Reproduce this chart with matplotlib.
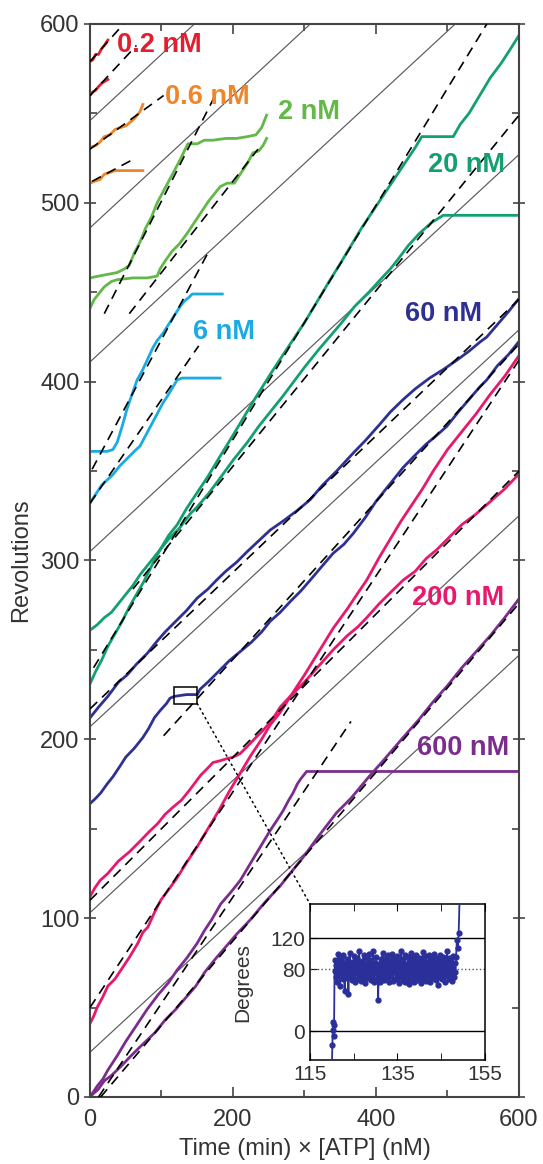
import matplotlib
matplotlib.use("Agg")
import numpy as np
import matplotlib.pyplot as plt
from matplotlib.patches import Rectangle, ConnectionPatch
from matplotlib.ticker import MultipleLocator

plt.rcParams['font.family'] = ['Liberation Sans', 'DejaVu Sans']

# Gray reference lines: value at x=0 and at x=600
gray_y0 = [25, 103, 207, 305, 411, 486, 546]
gray_y600 = [247, 325, 429, 527, 633, 708, 768]

# Traces (x = time*[ATP], y = revolutions)
trace_02a = [(0, 579), (4, 580), (8, 583), (12, 583), (16, 586), (20, 588), (25, 591)]
trace_02b = [(0, 560), (4, 562), (8, 563), (12, 565), (17, 567), (21, 568), (25, 569)]
trace_06a = [(0, 531), (8, 532), (14, 534), (20, 537), (28, 538), (35, 541), (42, 542),
             (50, 543), (56, 545), (62, 547), (66, 549), (70, 551), (74, 555)]
trace_06b = [(0, 511), (6, 512), (14, 513), (20, 516), (28, 517), (35, 518), (42, 518),
             (52, 518), (60, 518), (74, 518)]
trace_2a = [(0, 458), (12, 459), (25, 460), (38, 461), (48, 463), (55, 465), (62, 472),
            (70, 478), (78, 486), (86, 492), (94, 500), (102, 506), (110, 512), (118, 518),
            (126, 524), (132, 529), (137, 533), (150, 533), (160, 535), (172, 535),
            (190, 536), (205, 536), (220, 537), (232, 538), (240, 542), (247, 549)]
trace_2b = [(0, 441), (6, 446), (12, 449), (20, 453), (30, 456), (38, 457), (60, 458),
            (80, 458), (94, 459), (98, 463), (106, 468), (115, 473), (125, 477), (136, 483),
            (146, 489), (156, 495), (166, 501), (176, 506), (182, 509), (192, 511),
            (202, 511), (210, 516), (220, 522), (228, 528), (236, 529), (242, 532), (247, 536)]
trace_6a = [(0, 361), (10, 361), (24, 361), (32, 362), (38, 366), (45, 375), (52, 385),
            (58, 392), (66, 401), (73, 406), (80, 412), (88, 419), (94, 423), (102, 427),
            (110, 432), (118, 437), (126, 442), (132, 445), (138, 447), (143, 449), (185, 449)]
trace_6b = [(0, 332), (8, 337), (16, 342), (24, 345), (32, 348), (42, 353), (52, 357),
            (62, 361), (70, 364), (78, 370), (86, 376), (94, 382), (102, 388), (110, 393),
            (116, 397), (122, 401), (129, 402), (150, 402), (182, 402)]
trace_20a = [(0, 261), (10, 264), (20, 268), (30, 271), (40, 276), (50, 281), (60, 286),
             (70, 292), (80, 297), (90, 302), (98, 306), (110, 314), (122, 320), (135, 329),
             (150, 338), (165, 347), (180, 357), (200, 370), (215, 380), (230, 390),
             (252, 404), (270, 415), (285, 424), (300, 433), (318, 445), (336, 457),
             (350, 466), (365, 476), (380, 486), (400, 498), (420, 510), (440, 522),
             (455, 531), (464, 537), (508, 537), (518, 544), (530, 550), (545, 560),
             (560, 570), (575, 578), (588, 586), (599, 593)]
trace_20b = [(0, 231), (8, 238), (16, 244), (25, 252), (35, 259), (45, 266), (55, 274),
             (65, 281), (75, 288), (85, 296), (98, 306), (110, 312), (125, 318), (140, 326),
             (150, 330), (165, 337), (180, 345), (200, 356), (220, 366), (236, 375),
             (252, 383), (270, 392), (285, 400), (300, 408), (320, 418), (335, 425),
             (350, 432), (370, 442), (390, 450), (406, 457), (420, 463), (430, 468),
             (445, 476), (461, 483), (478, 489), (494, 493), (600, 493)]
trace_60a = [(0, 212), (12, 218), (25, 224), (40, 232), (52, 236), (65, 242), (80, 248),
             (92, 254), (105, 260), (120, 266), (135, 272), (150, 279), (165, 284),
             (177, 289), (190, 294), (205, 299), (220, 305), (236, 311), (252, 317),
             (270, 322), (290, 328), (308, 334), (325, 342), (345, 350), (368, 360),
             (385, 367), (405, 376), (420, 383), (438, 390), (455, 396), (475, 402),
             (495, 407), (513, 412), (530, 417), (545, 422), (555, 425), (570, 432),
             (585, 439), (599, 446)]
trace_60b = [(0, 164), (8, 167), (15, 170), (24, 175), (32, 179), (42, 185), (50, 190),
             (62, 195), (74, 201), (82, 206), (90, 212), (98, 216), (107, 220), (112, 223),
             (118, 224), (135, 225), (150, 225), (154, 228), (165, 232), (180, 238),
             (195, 244), (210, 249), (225, 254), (240, 260), (252, 266), (266, 271),
             (280, 277), (295, 283), (308, 289), (325, 297), (340, 304), (355, 309),
             (368, 315), (385, 324), (400, 333), (420, 343), (438, 352), (455, 359),
             (470, 365), (485, 370), (499, 375), (515, 383), (530, 390), (545, 397),
             (555, 401), (570, 409), (585, 415), (599, 422)]
trace_200a = [(0, 112), (7, 117), (14, 121), (25, 125), (40, 132), (55, 137), (70, 143),
              (82, 148), (95, 153), (105, 158), (116, 162), (128, 166), (140, 172),
              (155, 180), (165, 184), (172, 187), (182, 188), (190, 189), (200, 190),
              (210, 192), (220, 196), (232, 201), (242, 205), (255, 211), (266, 218),
              (280, 224), (300, 232), (320, 241), (340, 250), (360, 258), (375, 263),
              (387, 268), (405, 276), (420, 282), (438, 289), (455, 294), (470, 301),
              (485, 306), (500, 312), (520, 320), (540, 326), (560, 333), (580, 340),
              (599, 348)]
trace_200b = [(0, 41), (5, 45), (10, 50), (18, 56), (25, 62), (35, 66), (45, 72),
              (55, 78), (67, 86), (74, 92), (81, 95), (90, 103), (99, 110), (110, 116),
              (121, 122), (135, 131), (150, 140), (165, 150), (180, 160), (195, 171),
              (210, 181), (225, 191), (240, 200), (252, 208), (266, 215), (282, 225),
              (300, 236), (320, 249), (340, 262), (360, 273), (375, 282), (387, 289),
              (405, 302), (420, 312), (435, 322), (450, 331), (465, 340), (480, 350),
              (500, 362), (520, 372), (540, 382), (560, 393), (580, 403), (599, 414)]
trace_600a = [(0, 0), (5, 3), (10, 6), (18, 10), (25, 15), (38, 23), (50, 31), (65, 40),
              (80, 49), (95, 57), (110, 64), (122, 71), (136, 78), (150, 86), (160, 93),
              (170, 99), (183, 108), (196, 114), (210, 121), (225, 131), (240, 141),
              (252, 149), (262, 155), (270, 160), (278, 166), (284, 170), (290, 175),
              (295, 178), (303, 182), (400, 182), (500, 182), (600, 182)]
trace_600b = [(0, 0), (5, 2), (11, 4), (20, 9), (30, 12), (43, 17), (55, 22), (70, 28),
              (91, 36), (105, 43), (120, 49), (135, 56), (148, 62), (161, 70), (175, 77),
              (190, 84), (205, 91), (224, 99), (245, 109), (266, 118), (280, 125),
              (300, 135), (320, 146), (345, 159), (365, 167), (390, 179), (410, 188),
              (438, 201), (460, 211), (480, 221), (500, 230), (520, 240), (540, 249),
              (560, 258), (580, 268), (599, 278)]

# Dashed fits: (x0, y0, x1, y1)
fit_02a = (0, 579, 47, 600)
fit_02b = (0, 560, 65, 588)
fit_06a = (0, 530, 103, 560)
fit_06b = (3, 512, 59, 524)
fit_2a = (20, 438, 175, 560)
fit_2b = (55, 438, 235, 530)
fit_6a = (3, 351, 165, 472)
fit_6b = (0, 332, 152, 420)
fit_20a = (5, 240, 555, 600)
fit_20b = (60, 284, 600, 549)
fit_60a = (0, 217, 600, 446)
fit_60b = (103, 202, 600, 421)
fit_200a = (0, 110, 600, 350)
fit_200b = (0, 50, 600, 412)
fit_600a = (12, 0, 365, 210)
fit_600b = (15, 0, 600, 276)

RED, ORANGE, GREEN, CYAN = "#e31e2d", "#f0862a", "#62b848", "#1aabe3"
TEAL, NAVY, PINK, PURPLE = "#13a070", "#2e3192", "#e8196c", "#7b2d8e"

SERIES = [
    (trace_02a, fit_02a, RED), (trace_02b, fit_02b, RED),
    (trace_06a, fit_06a, ORANGE), (trace_06b, fit_06b, ORANGE),
    (trace_2a, fit_2a, GREEN), (trace_2b, fit_2b, GREEN),
    (trace_6a, fit_6a, CYAN), (trace_6b, fit_6b, CYAN),
    (trace_20a, fit_20a, TEAL), (trace_20b, fit_20b, TEAL),
    (trace_60a, fit_60a, NAVY), (trace_60b, fit_60b, NAVY),
    (trace_200a, fit_200a, PINK), (trace_200b, fit_200b, PINK),
    (trace_600a, fit_600a, PURPLE), (trace_600b, fit_600b, PURPLE),
]

LABELS = [("0.2 nM", 38, 588, RED), ("0.6 nM", 105, 559, ORANGE),
          ("2 nM", 263, 551, GREEN), ("20 nM", 473, 521, TEAL),
          ("6 nM", 144, 428, CYAN), ("60 nM", 440, 438, NAVY),
          ("200 nM", 450, 279, PINK), ("600 nM", 457, 195, PURPLE)]

# Inset: angle trace around the pause marked by the box
inset_lead_t = [120.0, 120.1, 120.2, 120.3, 120.4, 120.5]
inset_lead_deg = [-45, -18, 2, 12, -6, 8]
inset_band_deg = [78, 92, 70, 85, 64, 88, 100, 72, 81, 58, 95, 76, 83, 67, 99, 74, 52, 88,
                  80, 69, 93, 77, 48, 86, 101, 73, 84, 66, 90, 79, 70, 97, 82, 63, 88, 75,
                  94, 68, 80, 104, 72, 86, 65, 91, 78, 70, 98, 83, 62, 87, 76, 95, 69, 81,
                  100, 73, 89, 66, 92, 79, 71, 103, 84, 64, 88, 75, 96, 68, 82, 40, 74, 87,
                  63, 93, 78, 70, 101, 85, 66, 90, 76, 94, 67, 83, 98, 72, 88, 64, 92, 79,
                  71, 100, 84, 65, 89, 77, 95, 68, 82, 97, 73, 86, 62, 91, 78, 103, 70, 85,
                  66, 93, 75, 99, 64, 87, 80, 69, 96, 74, 61, 90, 82, 101, 67, 86, 77, 94,
                  63, 88, 72, 98, 80, 66, 91, 76, 84, 70, 95, 62, 89, 78, 102, 68, 86, 73,
                  97, 65, 90, 81, 71, 99, 76, 64, 88, 83, 93, 69, 79, 100, 72, 87, 66, 94,
                  75, 82, 60, 91, 77, 98, 70, 85, 67, 96, 80, 73, 89, 63, 92, 78, 104, 71,
                  86, 68, 95, 79, 74, 90, 65, 97, 82, 70, 88, 76]
inset_tail_t = [148.4, 148.6, 148.8, 149.0, 149.2]
inset_tail_deg = [96, 118, 108, 127, 170]

fig = plt.figure(figsize=(5.43, 11.64), dpi=100)
ax = fig.add_axes([0.1657, 0.0576, 0.7901, 0.9218])

for y0, y1 in zip(gray_y0, gray_y600):
    ax.plot([0, 600], [y0, y1], color="#5a5a5a", lw=0.85, zorder=1)

for trace, fit, color in SERIES:
    xs, ys = zip(*trace)
    ax.plot(xs, ys, color=color, lw=2.0, zorder=2)
for trace, fit, color in SERIES:
    ax.plot([fit[0], fit[2]], [fit[1], fit[3]], color="black", lw=1.2,
            dashes=(6, 4), zorder=3)

for text, x, y, color in LABELS:
    ax.text(x, y, text, color=color, fontsize=19.5, fontweight="bold",
            ha="left", va="center", zorder=4)

ax.set_xlim(0, 600)
ax.set_ylim(0, 600)
ax.xaxis.set_major_locator(MultipleLocator(200))
ax.xaxis.set_minor_locator(MultipleLocator(100))
ax.yaxis.set_major_locator(MultipleLocator(100))
ax.yaxis.set_minor_locator(MultipleLocator(50))
ax.tick_params(which="both", direction="in", top=True, right=True,
               color="#444444", width=1.2, labelsize=17, labelcolor="#333333")
ax.tick_params(which="major", length=7)
ax.tick_params(which="minor", length=5)
ax.tick_params(axis="y", which="major", left=True, direction="inout", length=9, pad=3)
ax.tick_params(axis="x", which="major", pad=9)
for s in ax.spines.values():
    s.set_color("#444444")
    s.set_linewidth(1.5)
ax.set_xlabel("Time (min) \u00d7 [ATP] (nM)", fontsize=17, color="#333333", labelpad=5)
ax.set_ylabel("Revolutions", fontsize=17, color="#333333", labelpad=6)

# Zoom box and dotted connector
ax.add_patch(Rectangle((118, 220), 32, 9, fill=False, edgecolor="black", lw=1.1, zorder=5))

axi = fig.add_axes([0.571, 0.0893, 0.322, 0.134])
t_band = np.linspace(120.6, 148.2, len(inset_band_deg))
t_all = np.concatenate([inset_lead_t, t_band, inset_tail_t])
d_all = np.concatenate([inset_lead_deg, inset_band_deg, inset_tail_deg])
axi.axhline(0, color="black", lw=1)
axi.axhline(120, color="black", lw=1)
axi.axhline(80, color="#555555", lw=1, ls=":")
axi.plot(t_all, d_all, color="#2a2f9a", lw=1.3, marker="o", ms=3.5, zorder=3)
axi.set_xlim(115, 155)
axi.set_ylim(-37, 164)
axi.set_xticks([115, 135, 155])
axi.set_xticks([125, 145], minor=True)
axi.set_yticks([0, 80, 120])
axi.tick_params(which="both", direction="in", labelsize=15, labelcolor="#333333",
                top=True, length=5)
for s in axi.spines.values():
    s.set_linewidth(1.1)
axi.set_ylabel("Degrees", fontsize=15, color="#333333", labelpad=13)

con = ConnectionPatch(xyA=(150, 220), coordsA=ax.transData,
                      xyB=(0, 1), coordsB=axi.transAxes,
                      color="black", lw=1.1, ls=(0, (1, 2.5)), zorder=6)
fig.add_artist(con)

fig.savefig("out.png", dpi=100)
